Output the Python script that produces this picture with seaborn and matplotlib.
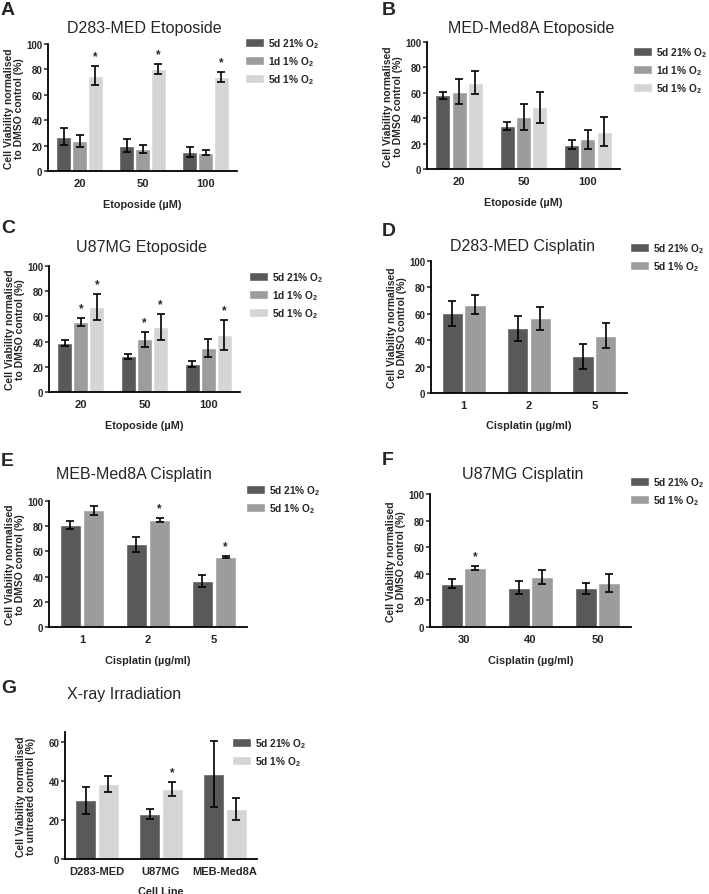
import numpy as np
import pandas as pd
import seaborn as sns
import matplotlib.pyplot as plt

# data (means and error half-widths, %)
etoposide_doses = ["20", "50", "100"]
cisplatin_d283_doses = ["1", "2", "5"]
cisplatin_med8a_doses = ["1", "2", "5"]
cisplatin_u87_doses = ["30", "40", "50"]
cell_lines = ["D283-MED", "U87MG", "MEB-Med8A"]

lab_21 = "5d 21% O$_2$"
lab_1d = "1d 1% O$_2$"
lab_5d = "5d 1% O$_2$"

# A  D283-MED Etoposide
a_21 = [27, 20, 15]
a_21_err = [6.5, 5, 4]
a_1d = [23.5, 17.5, 14.5]
a_1d_err = [4.5, 3, 1.8]
a_5d = [75, 80, 74]
a_5d_err = [7.5, 4, 4]
a_stars = {lab_5d: [1, 1, 1]}

# B  MED-Med8A Etoposide
b_21 = [58, 34, 19]
b_21_err = [3, 3, 3.5]
b_1d = [61, 41, 23.5]
b_1d_err = [9.5, 10, 7.5]
b_5d = [68, 48.5, 29.5]
b_5d_err = [9, 12, 11.5]
b_stars = {}

# C  U87MG Etoposide
c_21 = [39, 28.5, 22]
c_21_err = [2.5, 2, 2.5]
c_1d = [55.5, 42, 35]
c_1d_err = [3, 6, 7]
c_5d = [67.5, 51.5, 45.5]
c_5d_err = [10, 10.5, 12]
c_stars = {lab_1d: [1, 1, 0], lab_5d: [1, 1, 1]}

# D  D283-MED Cisplatin
d_21 = [60.5, 49, 28]
d_21_err = [9.5, 9.5, 9.5]
d_5d = [67, 56.5, 43.5]
d_5d_err = [7.5, 8.5, 9.5]
d_stars = {}

# E  MEB-Med8A Cisplatin
e_21 = [81, 65.5, 36.5]
e_21_err = [3.5, 6, 5]
e_5d = [92.5, 85, 55.5]
e_5d_err = [3.5, 1.5, 0.7]
e_stars = {lab_5d: [0, 1, 1]}

# F  U87MG Cisplatin
f_21 = [32.5, 29.5, 29]
f_21_err = [3.5, 5, 4]
f_5d = [44.5, 37.5, 33]
f_5d_err = [1.5, 5.5, 7]
f_stars = {lab_5d: [1, 0, 0]}

# G  X-ray Irradiation
g_21 = [30, 23, 43.5]
g_21_err = [7, 2.5, 17]
g_5d = [38.5, 36, 25.5]
g_5d_err = [4, 3.5, 5.5]
g_stars = {lab_5d: [0, 1, 0]}

DARK = "#595959"
MID = "#9c9c9c"
LIGHT = "#d5d5d5"

sns.set_style("ticks")
plt.rcParams["font.family"] = ["Liberation Sans", "DejaVu Sans"]
plt.rcParams["mathtext.fontset"] = "custom"
plt.rcParams["mathtext.rm"] = "Liberation Sans:bold"
plt.rcParams["mathtext.it"] = "Liberation Sans:bold"
plt.rcParams["mathtext.bf"] = "Liberation Sans:bold"
plt.rcParams["mathtext.default"] = "rm"

W, H = 709, 895
fig = plt.figure(figsize=(W / 100, H / 100), dpi=100)


def rect(l, t, r, b):
    return [l / W, 1 - b / H, (r - l) / W, (b - t) / H]


def panel(box, letter, letter_xy, title, title_xy, cats, series, stars,
          colors, xlabel, ylabel, leg_xy, ylim=100, yticks=range(0, 101, 20),
          width=0.76, xpad=8, ypad=1.5):
    ax = fig.add_axes(rect(*box))
    rows = []
    for name, (vals, errs) in series.items():
        for c, v, e in zip(cats, vals, errs):
            rows.append({"cat": c, "group": name, "val": v, "err": e})
    df = pd.DataFrame(rows)
    sns.barplot(data=df, x="cat", y="val", hue="group", order=cats,
                hue_order=list(series), palette=colors, width=width, gap=0.07,
                errorbar=None, saturation=1, ax=ax)
    for cont, name in zip(ax.containers, series):
        vals, errs = series[name]
        xs = [p.get_x() + p.get_width() / 2 for p in cont.patches]
        ax.errorbar(xs, vals, yerr=errs, fmt="none", ecolor="black",
                    elinewidth=1.2, capsize=3.2, capthick=1.2)
        for x, v, e, s in zip(xs, vals, errs, stars.get(name, [0] * len(xs))):
            if s:
                ax.text(x, v + e + ylim * 0.03, "*", ha="center", va="bottom",
                        fontsize=8.5, fontweight="bold")
    ax.set_xlim(-0.5, len(cats) - 0.5)
    ax.set_ylim(0, ylim)
    ax.set_yticks(list(yticks))
    sns.despine(ax=ax)
    for s in ["left", "bottom"]:
        ax.spines[s].set_linewidth(1.3)
        ax.spines[s].set_color("black")
    ax.tick_params(axis="x", length=0, pad=5, labelsize=8)
    ax.tick_params(axis="y", length=3, width=1.1, pad=1, labelsize=7)
    for t in ax.get_xticklabels() + ax.get_yticklabels():
        t.set_fontweight("bold")
    ax.set_xlabel(xlabel, fontsize=7.8, fontweight="bold", labelpad=xpad)
    ax.set_ylabel(ylabel, fontsize=7.5, fontweight="bold", labelpad=ypad,
                  linespacing=1.0)
    handles, labels = ax.get_legend_handles_labels()
    ax.legend(handles, labels, loc="upper left",
              bbox_to_anchor=(leg_xy[0] / W, 1 - leg_xy[1] / H),
              bbox_transform=fig.transFigure, frameon=False,
              prop={"size": 7.3, "weight": "bold"}, handlelength=1.9,
              handleheight=0.95, handletextpad=0.35, labelspacing=0.42,
              borderpad=0, borderaxespad=0)
    fig.text(title_xy[0] / W, 1 - title_xy[1] / H, title, ha="center",
             va="center", fontsize=11.5)
    fig.text(letter_xy[0] / W, 1 - letter_xy[1] / H, letter, ha="left",
             va="top", fontsize=14, fontweight="bold")
    return ax


ylab = "Cell Viability normalised\nto DMSO control (%)"

panel((48, 45, 237, 172), "A", (1, 2), "D283-MED Etoposide", (144, 28),
      etoposide_doses,
      {lab_21: (a_21, a_21_err), lab_1d: (a_1d, a_1d_err), lab_5d: (a_5d, a_5d_err)},
      a_stars, [DARK, MID, LIGHT], "Etoposide (µM)", ylab, (245, 37))

panel((427, 43, 620, 170), "B", (382, 2), "MED-Med8A Etoposide", (531, 28),
      etoposide_doses,
      {lab_21: (b_21, b_21_err), lab_1d: (b_1d, b_1d_err), lab_5d: (b_5d, b_5d_err)},
      b_stars, [DARK, MID, LIGHT], "Etoposide (µM)", ylab, (633, 46))

panel((49, 267, 240, 393), "C", (1, 220), "U87MG Etoposide", (142, 248),
      etoposide_doses,
      {lab_21: (c_21, c_21_err), lab_1d: (c_1d, c_1d_err), lab_5d: (c_5d, c_5d_err)},
      c_stars, [DARK, MID, LIGHT], "Etoposide (µM)", ylab, (249, 271))

panel((431, 262, 627, 394), "D", (382, 223), "D283-MED Cisplatin", (523, 247),
      cisplatin_d283_doses,
      {lab_21: (d_21, d_21_err), lab_5d: (d_5d, d_5d_err)},
      d_stars, [DARK, MID], "Cisplatin (µg/ml)", ylab, (630, 242), width=0.7,
      xpad=7)

panel((49, 502, 247, 628), "E", (1, 453), "MEB-Med8A Cisplatin", (134, 475),
      cisplatin_med8a_doses,
      {lab_21: (e_21, e_21_err), lab_5d: (e_5d, e_5d_err)},
      e_stars, [DARK, MID], "Cisplatin (µg/ml)", ylab, (246, 484), width=0.7,
      xpad=8)

panel((430, 495, 631, 628), "F", (382, 452), "U87MG Cisplatin", (523, 475),
      cisplatin_u87_doses,
      {lab_21: (f_21, f_21_err), lab_5d: (f_5d, f_5d_err)},
      f_stars, [DARK, MID], "Cisplatin (µg/ml)", ylab, (630, 476), width=0.7,
      xpad=8)

panel((65, 733, 257, 860), "G", (1, 680), "X-ray Irradiation", (124, 695),
      cell_lines,
      {lab_21: (g_21, g_21_err), lab_5d: (g_5d, g_5d_err)},
      g_stars, [DARK, LIGHT], "Cell Line",
      "Cell Viability normalised\nto untreated control (%)", (232, 737),
      ylim=65, yticks=range(0, 61, 20), width=0.7, xpad=7, ypad=9)

fig.savefig("out.png", dpi=100, facecolor="white")
